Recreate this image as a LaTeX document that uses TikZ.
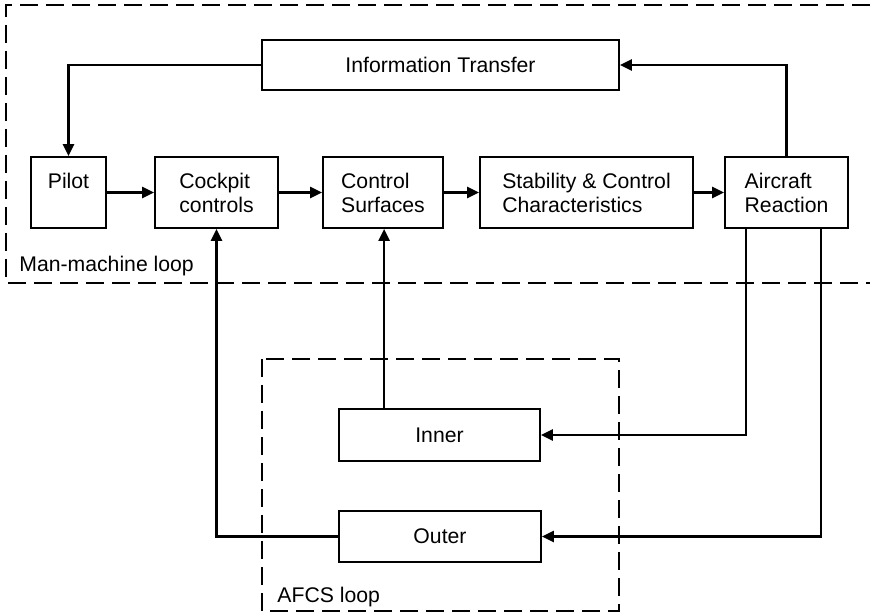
\documentclass[tikz,border=0pt]{standalone}
\usepackage{fontspec}
\setmainfont{Liberation Sans}
\usetikzlibrary{arrows.meta}
\begin{document}
\begin{tikzpicture}[x=0.5pt,y=-0.5pt,
  box/.style={draw, line width=0.9pt, inner sep=0pt, align=left,
    font=\fontsize{10.6}{12}\selectfont},
  conn/.style={line width=1.2pt, -{Triangle[length=6pt,width=5.5pt]}},
  plain/.style={line width=1.2pt},
  loopline/.style={line width=0.9pt, dash pattern=on 9pt off 4pt},
  lbl/.style={font=\fontsize{10.6}{12}\selectfont, inner sep=0pt, anchor=base west}]
\useasboundingbox (0,0) rectangle (870,613);
\fill[white] (0,0) rectangle (870,613);
% loops
\draw[loopline] (870,5) -- (6,5) -- (6,283) -- (870,283);
\draw[loopline] (262,359) rectangle (619,611);
\node[lbl] (mm) at (19,272) {Man-machine loop};
\node[lbl] (afcs) at (277,602) {AFCS loop};
% boxes
\node[box, minimum width=178.5pt, minimum height=25pt] (info) at (440.5,65) {Information Transfer};
\node[box, minimum width=37.5pt, minimum height=35.5pt, align=center] (pilot) at (68.5,192.5) {Pilot\\ \mbox{}};
\node[box, minimum width=61.5pt, minimum height=35.5pt] (cockpit) at (216.5,192.5) {Cockpit\\controls};
\node[box, minimum width=60pt, minimum height=35.5pt] (cs) at (383,192.5) {Control\\Surfaces};
\node[box, minimum width=106.5pt, minimum height=35.5pt] (stab) at (586.5,192.5) {Stability \& Control\\Characteristics};
\node[box, minimum width=61.5pt, minimum height=35.5pt] (ac) at (786.5,192.5) {Aircraft\\Reaction};
\node[box, minimum width=100.5pt, minimum height=26pt] (inner) at (439.5,435) {Inner};
\node[box, minimum width=101pt, minimum height=25.5pt] (outer) at (440,536.5) {Outer};
% connectors
\draw[conn] (info.west) -| (pilot.north);
\draw[conn] (pilot) -- (cockpit);
\draw[conn] (cockpit) -- (cs);
\draw[conn] (cs) -- (stab);
\draw[conn] (stab) -- (ac);
\draw[conn] (ac.north) |- (info.east);
\draw[conn] ([xshift=11pt]ac.south west) |- (inner.east);
\draw[conn] ([xshift=48.5pt]ac.south west) |- (outer.east);
\draw[conn] ([xshift=23pt]inner.north west) -- ([xshift=23pt]inner.north west |- cs.south);
\draw[conn] (outer.west) -| (cockpit.south);
\end{tikzpicture}
\end{document}
